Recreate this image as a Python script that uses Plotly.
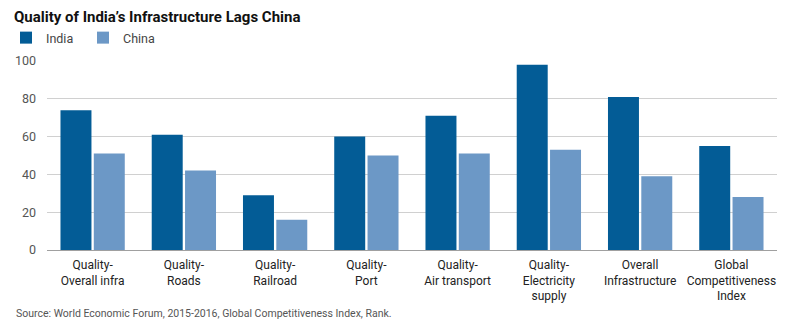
import plotly.graph_objects as go

categories = [
    "Quality-<br>Overall infra",
    "Quality-<br>Roads",
    "Quality-<br>Railroad",
    "Quality-<br>Port",
    "Quality-<br>Air transport",
    "Quality-<br>Electricity<br>supply",
    "Overall<br>Infrastructure",
    "Global<br>Competitiveness<br>Index",
]
india = [74, 61, 29, 60, 71, 98, 81, 55]
china = [51, 42, 16, 50, 51, 53, 39, 28]
y_ticks = [0, 20, 40, 60, 80, 100]

W, H = 800, 330
ML, MR, MT, MB = 47, 23, 61, 80
plot_w = W - ML - MR
plot_h = H - MT - MB

FONT = "Roboto"
fig = go.Figure()
fig.add_trace(go.Bar(x=categories, y=india, name="India",
                     marker=dict(color="#035C96", line=dict(width=0))))
fig.add_trace(go.Bar(x=categories, y=china, name="China",
                     marker=dict(color="#6C98C6", line=dict(width=0))))

fig.update_layout(
    width=W, height=H,
    margin=dict(l=ML, r=MR, t=MT, b=MB, autoexpand=False),
    paper_bgcolor="white", plot_bgcolor="white",
    barmode="group", bargap=0.27, bargroupgap=0.07,
    font=dict(family=FONT, size=12, color="#333333"),
    title=dict(text="<b>Quality of India’s Infrastructure Lags China</b>",
               x=14 / W, xanchor="left", xref="container",
               y=1 - 17 / H, yanchor="middle", yref="container",
               font=dict(family=FONT, size=15, color="#111111")),
    legend=dict(orientation="h", xref="container", yref="container",
                x=6 / W, xanchor="left", y=1 - 38 / H, yanchor="middle",
                font=dict(family=FONT, size=12.5, color="#444444"),
                entrywidth=32, entrywidthmode="pixels",
                itemsizing="constant", traceorder="normal",
                bgcolor="rgba(0,0,0,0)"),
    showlegend=True,
)
fig.update_xaxes(range=[-0.5, 7.5], showgrid=False, showline=False, ticks="",
                 tickfont=dict(family=FONT, size=12, color="#222222"),
                 ticklabelstandoff=6,
                 tickangle=0, fixedrange=True)
fig.update_yaxes(range=[0, 100], tickvals=y_ticks, showgrid=True, gridcolor="#D0D0D0",
                 gridwidth=1, zeroline=True, zerolinecolor="#A0A0A0", zerolinewidth=1,
                 showline=False, ticks="", ticklabelstandoff=10,
                 tickfont=dict(family=FONT, size=12.5, color="#555555"), fixedrange=True)

fig.add_annotation(text="Source: World Economic Forum, 2015-2016, Global Competitiveness Index, Rank.",
                   xref="paper", yref="paper",
                   x=(14 - ML) / plot_w, xanchor="left",
                   y=-(313 - (H - MB)) / plot_h, yanchor="middle",
                   showarrow=False, font=dict(family=FONT, size=10.5, color="#555555"))

fig.write_html("out.html")
